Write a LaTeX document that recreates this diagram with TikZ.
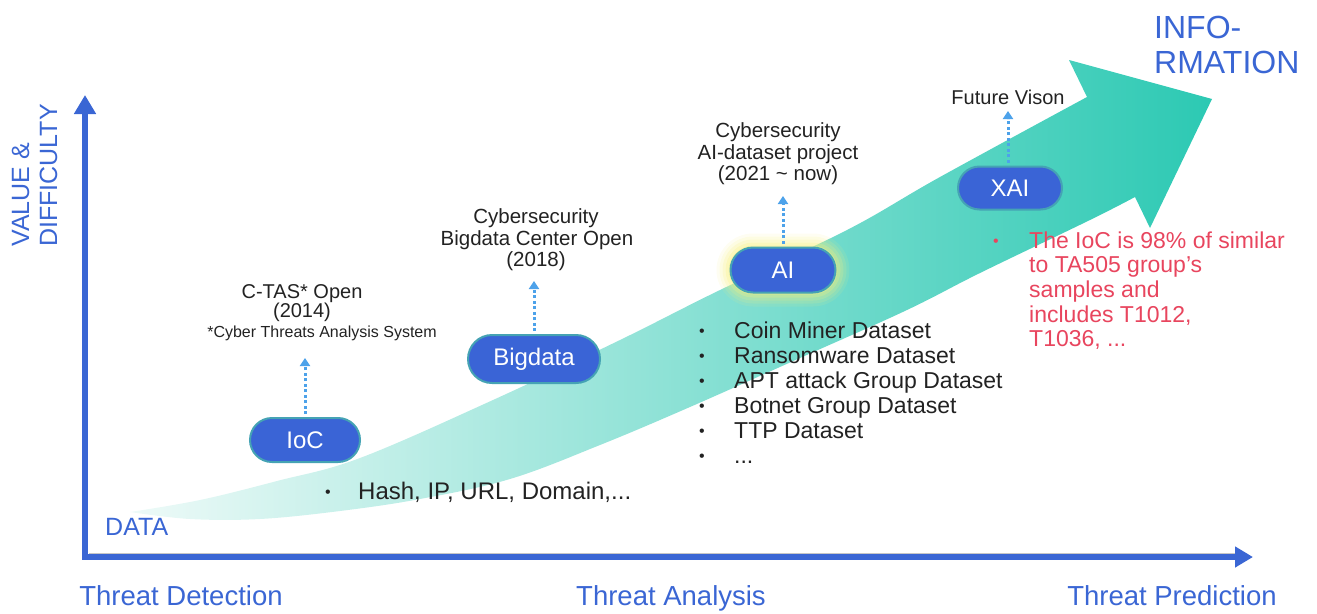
\documentclass[tikz,border=0pt]{standalone}
\usepackage{fontspec}
\setmainfont{Liberation Sans}
\usetikzlibrary{arrows.meta,shapes.misc}

\definecolor{axisblue}{HTML}{3A66D4}
\definecolor{pillblue}{HTML}{3A64D6}
\definecolor{pillrim}{HTML}{45A3B4}
\definecolor{inktext}{HTML}{222222}
\definecolor{alertred}{HTML}{E8455E}
\definecolor{hintblue}{HTML}{4DA2EA}
\definecolor{bandlight}{HTML}{EEFAF8}
\definecolor{bandmid}{HTML}{B8EDE5}
\definecolor{banddark}{HTML}{2CC9B3}
\definecolor{glow}{HTML}{F7F07E}

\newcommand\fsz[2]{\fontsize{#1}{#2}\selectfont}

\begin{document}
\begin{tikzpicture}[x=1pt,y=-1pt,
  pill/.style={rounded rectangle, fill=pillblue, draw=pillrim, line width=2pt,
    text=white, font=\fsz{24}{28}, inner sep=0pt, minimum height=44pt},
  hint/.style={draw=hintblue, line width=3pt, dash pattern=on 3pt off 2.5pt,
    shorten <=3pt, -{Triangle[width=10pt,length=8pt]}},
  ink/.style={text=inktext, inner sep=0pt, anchor=base},
  inkl/.style={text=inktext, inner sep=0pt, anchor=base west},
  bul/.style={text=inktext, inner sep=0pt, anchor=base west, font=\fsz{16}{18}},
  item/.style={text=inktext, inner sep=0pt, anchor=base west, font=\fsz{23}{25}},
  redl/.style={text=alertred, inner sep=0pt, anchor=base west, font=\fsz{23}{24}},
  bluelab/.style={text=axisblue, inner sep=0pt},
  axis/.style={draw=axisblue, line width=6.5pt, line join=miter,
    {Triangle[width=21pt,length=19pt]}-{Triangle[width=20pt,length=18pt]}}
]
\useasboundingbox (0,0) rectangle (1317,613);

% rising band arrow
\shade[left color=bandlight, middle color=bandmid, right color=banddark]
  plot[smooth, tension=0.6] coordinates {(130,512) (200,500) (277,481) (360,458)
    (493,400) (620,340) (720,290) (847,230) (940,177) (1087,97)}
  -- (1069,60) -- (1212,99) -- (1150,228)
  -- plot[smooth, tension=0.6] coordinates {(1135,197) (1090,220) (980,273)
    (907,310) (800,358) (690,407) (600,445) (510,479) (420,499) (340,511)
    (260,519) (190,519) (130,512)}
  -- cycle;

% axes
\coordinate (ytop) at (85,95);
\coordinate (orig) at (85,557);
\coordinate (xend) at (1253,557);
\draw[gray!45, line width=1pt] (89,553) -- (1236,553);
\draw[axis] (ytop) -- (orig) -- (xend);

% axis labels
\node[bluelab, rotate=90, anchor=base west, font=\fsz{25}{28}] (vlab1) at (29,247) {VALUE \&};
\node[bluelab, rotate=90, anchor=base west, font=\fsz{25}{28}] (vlab2) at (57,247) {DIFFICULTY};
\node[bluelab, anchor=base west, font=\fsz{25}{28}] (data) at (105,535) {DATA};
\node[bluelab, anchor=base, font=\fsz{27.5}{30}] (tdet) at (181,605) {Threat Detection};
\node[bluelab, anchor=base, font=\fsz{27.5}{30}] (tana) at (671,605) {Threat Analysis};
\node[bluelab, anchor=base, font=\fsz{27.5}{30}] (tpre) at (1172,605) {Threat Prediction};
\node[bluelab, anchor=base west, font=\fsz{32}{35}] (info1) at (1154,38) {INFO-};
\node[bluelab, anchor=base west, font=\fsz{32}{35}] (info2) at (1154,73) {RMATION};

% halo round the AI stage
\foreach \g/\o/\r in {14/0.10/36.5, 11/0.14/33.5, 8/0.18/30.5, 5/0.25/27.5, 2/0.35/24.5}
  \fill[glow, opacity=\o, rounded corners=\r pt]
    (730.5-\g,247.5-\g) rectangle (835.5+\g,292.5+\g);

% stages
\node[pill, minimum width=110pt] (ioc) at (305,440) {IoC};
\node[pill, minimum width=132pt, minimum height=48pt] (big) at (534,359) {Bigdata};
\node[pill, minimum width=105pt, minimum height=45pt] (ai) at (783,270) {AI};
\node[pill, minimum width=104pt, minimum height=43pt] (xai) at (1010,188) {XAI};

% milestones above the stages
\coordinate (iocup) at (305,358);
\coordinate (bigup) at (534,281);
\coordinate (aiup) at (783,196);
\coordinate (xaiup) at (1008,111);
\draw[hint] (ioc.north) -- (iocup);
\draw[hint] (big.north) -- (bigup);
\draw[hint] (ai.north) -- (aiup);
\draw[hint] ([xshift=-2pt]xai.north) -- (xaiup);

\node[ink, font=\fsz{20}{21}] (c1) at (302,298) {C-TAS* Open};
\node[ink, font=\fsz{20}{21}] (c2) at (302,317) {(2014)};
\node[ink, font=\fsz{16}{18}] (c3) at (322,337) {*Cyber Threats Analysis System};

\node[ink, font=\fsz{20.5}{21}] (b1) at (536,223) {Cybersecurity};
\node[ink, font=\fsz{20.5}{21}] (b2) at (537,245) {Bigdata Center Open};
\node[ink, font=\fsz{20.5}{21}] (b3) at (536,266) {(2018)};

\node[ink, font=\fsz{20.5}{21}] (a1) at (778,137) {Cybersecurity};
\node[ink, font=\fsz{20.5}{21}] (a2) at (778,159) {AI-dataset project};
\node[ink, font=\fsz{20.5}{21}] (a3) at (778,180) {(2021 \char"7E\ now)};

\node[ink, font=\fsz{20}{21}] (fv) at (1008,104) {Future Vison};

% data items
\node[bul] (hb) at (325,497) {•};
\node[inkl, font=\fsz{24}{26}] (hash) at (358,499) {Hash, IP, URL, Domain,...};

\node[bul] (db1) at (699,336) {•};
\node[bul] (db2) at (699,361) {•};
\node[bul] (db3) at (699,386) {•};
\node[bul] (db4) at (699,411) {•};
\node[bul] (db5) at (699,436) {•};
\node[bul] (db6) at (699,461) {•};
\node[item] (ds1) at (734,338) {Coin Miner Dataset};
\node[item] (ds2) at (734,363) {Ransomware Dataset};
\node[item] (ds3) at (734,388) {APT attack Group Dataset};
\node[item] (ds4) at (734,413) {Botnet Group Dataset};
\node[item] (ds5) at (734,438) {TTP Dataset};
\node[item] (ds6) at (734,463) {...};

% prediction note
\node[redl, font=\fsz{16}{18}] (rb) at (993,246) {•};
\node[redl] (rl1) at (1029,248) {The IoC is 98\% of similar};
\node[redl] (rl2) at (1029,272) {to TA505 group’s};
\node[redl] (rl3) at (1029,297) {samples and};
\node[redl] (rl4) at (1029,322) {includes T1012,};
\node[redl] (rl5) at (1029,346) {T1036, ...};
\end{tikzpicture}
\end{document}
